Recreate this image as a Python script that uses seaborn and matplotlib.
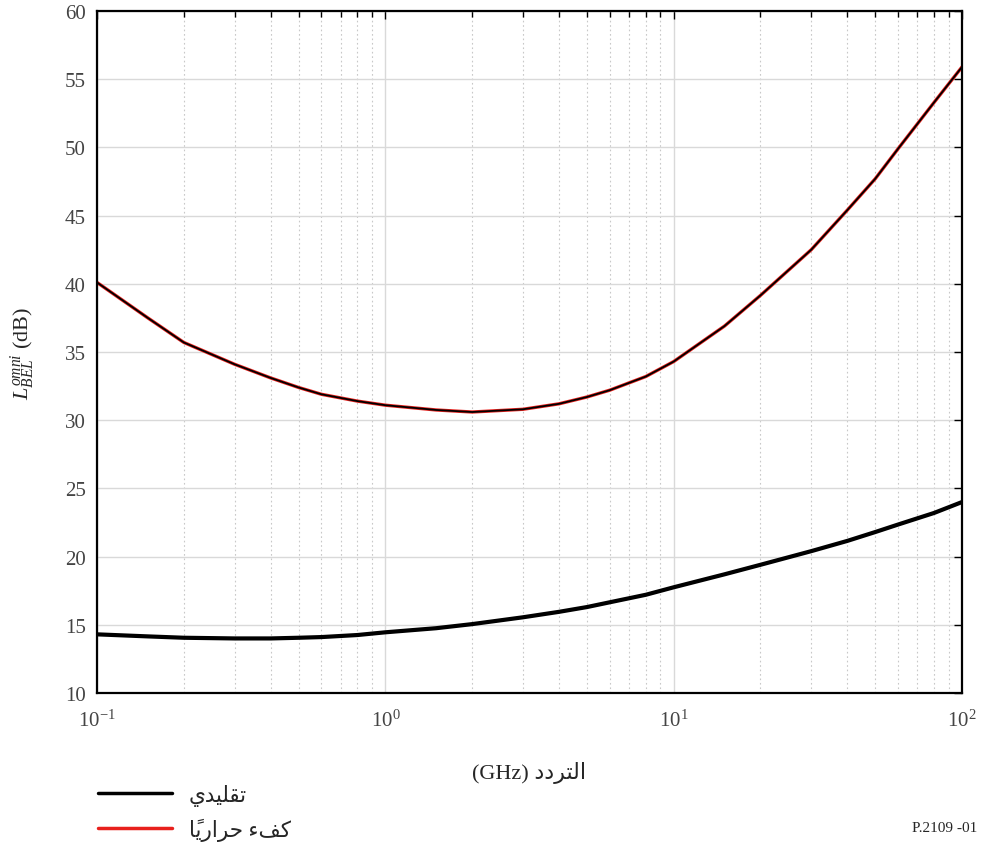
import matplotlib
matplotlib.use("Agg")
import matplotlib.pyplot as plt
from matplotlib.ticker import LogLocator, NullFormatter, MultipleLocator
import numpy as np
import pandas as pd
import seaborn as sns

# frequency in GHz and median building entry loss (dB)
freq_ghz = [0.1, 0.15, 0.2, 0.3, 0.4, 0.5, 0.6, 0.8, 1, 1.5, 2, 3, 4, 5, 6, 8,
            10, 15, 20, 30, 40, 50, 60, 80, 100]
loss_thermal = [40.1, 37.5, 35.7, 34.1, 33.1, 32.4, 31.9, 31.4, 31.1, 30.75, 30.6,
                30.8, 31.2, 31.7, 32.2, 33.2, 34.3, 36.9, 39.15, 42.5, 45.4, 47.7,
                49.9, 53.3, 55.9]
loss_traditional = [14.3, 14.15, 14.05, 14.0, 14.0, 14.05, 14.1, 14.25, 14.45, 14.75,
                    15.05, 15.55, 15.95, 16.3, 16.65, 17.2, 17.75, 18.7, 19.4, 20.4,
                    21.15, 21.8, 22.35, 23.2, 24.0]

# Arabic labels written in visual order with presentation forms (no shaping in matplotlib)
lbl_traditional = "\uFEF1\uFEAA\uFEF4\uFEE0\uFED8\uFE97"          # تقليدي
lbl_thermal = "\uFE8E\u064B\uFEF3\uFEAD\uFE8D\uFEAE\uFEA3 \uFE80\uFED2\uFEDB"  # كفء حرارياً
lbl_freq = "(GHz) \uFEA9\uFEA9\uFEAE\uFE98\uFEDF\uFE8D"             # التردد (GHz)

df = pd.DataFrame({"f": freq_ghz, "thermal": loss_thermal, "trad": loss_traditional})

sns.set_theme(style="white")
plt.rcParams["font.family"] = ["Liberation Serif", "DejaVu Sans"]
plt.rcParams["mathtext.fontset"] = "custom"
plt.rcParams["mathtext.rm"] = "Liberation Serif"
plt.rcParams["mathtext.it"] = "Liberation Serif:italic"

fig = plt.figure(figsize=(9.87, 8.45), dpi=100)
ax = fig.add_axes([0.0983, 0.1787, 0.8764, 0.8071])

sns.lineplot(data=df, x="f", y="thermal", ax=ax, color="#e8201c", lw=2.4, label=lbl_thermal)
sns.lineplot(data=df, x="f", y="thermal", ax=ax, color="black", lw=1.3, legend=False)
sns.lineplot(data=df, x="f", y="trad", ax=ax, color="black", lw=3.0, label=lbl_traditional)

ax.set_xscale("log")
ax.set_xlim(0.1, 100)
ax.set_ylim(10, 60)
ax.yaxis.set_major_locator(MultipleLocator(5))
ax.xaxis.set_major_locator(LogLocator(base=10))
ax.xaxis.set_minor_locator(LogLocator(base=10, subs=np.arange(2, 10)))
ax.xaxis.set_minor_formatter(NullFormatter())

ax.grid(True, which="major", color="#d9d9d9", lw=1.0, ls="-")
ax.grid(True, which="minor", axis="x", color="#c8c8c8", lw=0.8, ls=(0, (1.5, 2.5)))

for sp in ax.spines.values():
    sp.set_color("black")
    sp.set_linewidth(1.6)

ax.tick_params(which="both", direction="in", top=True, right=True, colors="black",
               labelcolor="#444444", labelsize=15)
ax.tick_params(which="major", length=6, width=1.0, pad=8)
ax.tick_params(which="minor", length=4, width=1.0)
ax.tick_params(axis="x", which="major", pad=12)

ax.set_xlabel(lbl_freq, fontsize=16, labelpad=22)
ax.set_ylabel(r"$L_{BEL}^{omni}$ (dB)", fontsize=16, labelpad=20)

ax.get_legend().remove()
h, l = ax.get_legend_handles_labels()
order = [1, 0]
leg = fig.legend([h[i] for i in order], [l[i] for i in order], loc="lower left",
                 bbox_to_anchor=(0.080, -0.019), frameon=False, fontsize=15.5,
                 handlelength=3.4, handletextpad=0.8, labelspacing=0.55)
for line in leg.get_lines():
    line.set_linewidth(2.5)

fig.text(0.99, 0.012, "P.2109 -01", ha="right", va="bottom", fontsize=11)

fig.savefig("out.png", dpi=100)
